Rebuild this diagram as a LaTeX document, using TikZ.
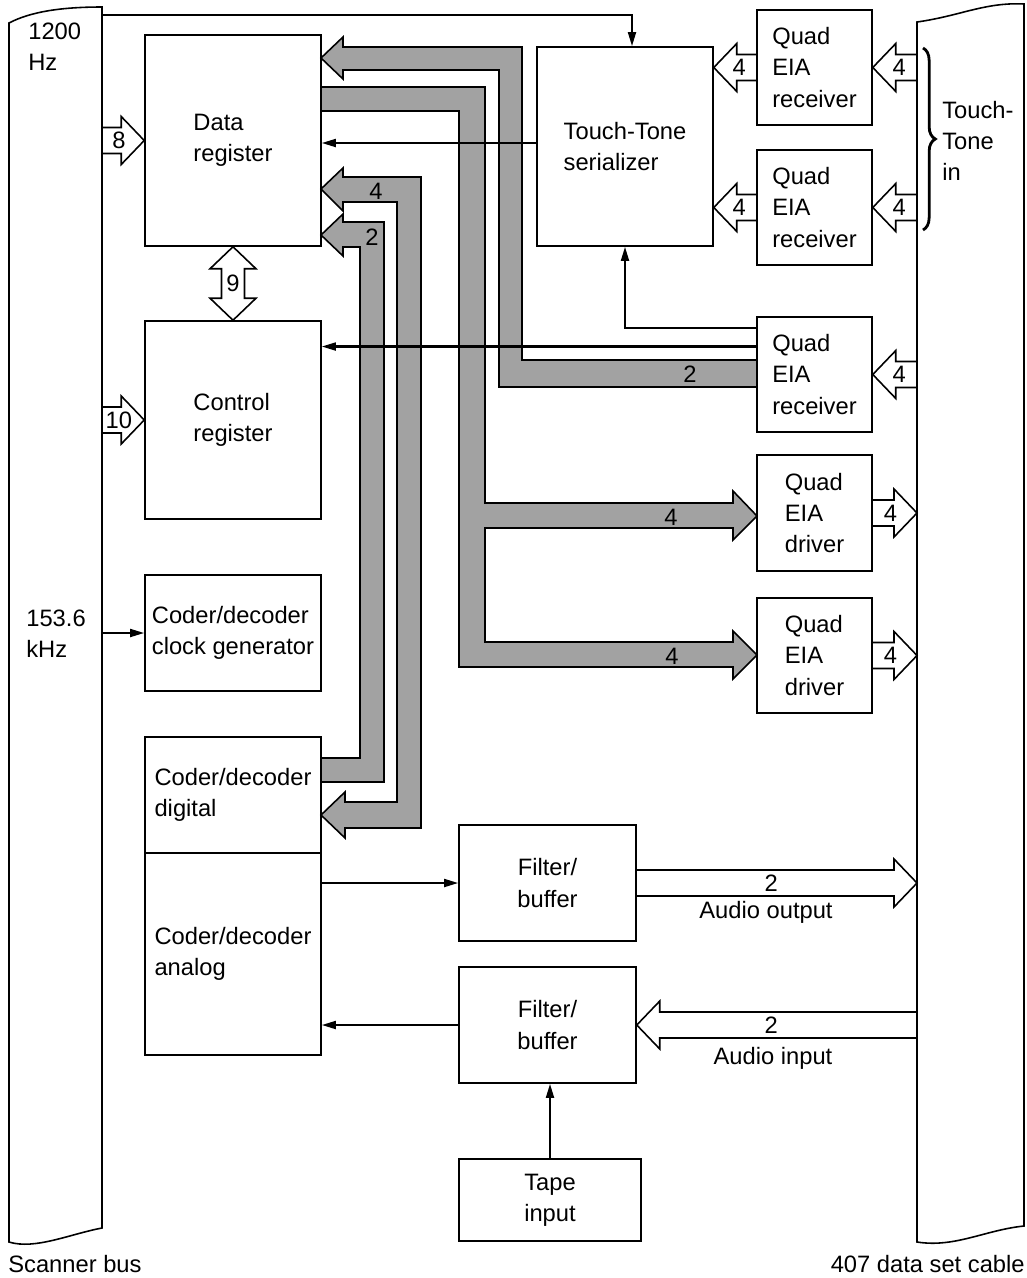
\documentclass[tikz,border=0pt]{standalone}
\usepackage{fontspec}
\setmainfont{Liberation Sans}
\usepackage{tikz}
\usetikzlibrary{positioning,arrows.meta,calc,decorations.pathreplacing,backgrounds}
\definecolor{busgray}{RGB}{162,162,162}
\newcommand{\hollowR}[4][0.4]{\draw[hollow] let \p1=#2, \p2=#3 in (\x1,\y2+0.26cm) -- (\x2-0.46cm,\y2+0.26cm) -- (\x2-0.46cm,\y2+0.48cm) -- (\x2,\y2) -- (\x2-0.46cm,\y2-0.48cm) -- (\x2-0.46cm,\y2-0.26cm) -- (\x1,\y2-0.26cm);
\path let \p1=#2, \p2=#3 in node[num] at ({\x1+#1*(\x2-\x1)},\y2) {#4};}
\newcommand{\hollowL}[4][0.4]{\draw[hollow] let \p1=#2, \p2=#3 in (\x1,\y2+0.26cm) -- (\x2+0.46cm,\y2+0.26cm) -- (\x2+0.46cm,\y2+0.48cm) -- (\x2,\y2) -- (\x2+0.46cm,\y2-0.48cm) -- (\x2+0.46cm,\y2-0.26cm) -- (\x1,\y2-0.26cm);
\path let \p1=#2, \p2=#3 in node[num] at ({\x1+#1*(\x2-\x1)},\y2) {#4};}

\begin{document}
\begin{tikzpicture}[x=0.02cm,y=-0.02cm,
  font=\fontsize{13.5}{17.8}\selectfont,
  box/.style={draw,line width=0.9pt,inner sep=0pt,align=left},
  sig/.style={line width=1.2pt,-{Triangle[length=8pt,width=4.5pt]}},
  hollow/.style={draw,line width=0.9pt,line join=miter},
  bus/.style={draw,line width=0.9pt,line join=miter,fill=busgray},
  num/.style={inner sep=0pt},
  txt/.style={inner sep=0pt,align=left}]
\useasboundingbox (0,0) rectangle (1027,1278);

\draw[line width=0.9pt] (9,1242) -- (9,23) .. controls (30,12) and (60,7) .. (102,7) -- (102,1228) .. controls (70,1234) and (35,1250) .. cycle;
\draw[line width=0.9pt] (917,1242) -- (917,22) .. controls (960,16) and (985,2) .. (1024,4) -- (1024,1226) .. controls (985,1230) and (955,1248) .. cycle;
\coordinate (sbus) at (102,0);
\coordinate (dbus) at (917,0);
\coordinate (hz) at (102,15);

\node[box,minimum width=3.52cm,minimum height=4.22cm] (dreg) at (233,140.5) {Data\\register};
\node[box,minimum width=3.52cm,minimum height=3.96cm] (creg) at (233,420) {Control\\register};
\node[box,minimum width=3.52cm,minimum height=2.32cm] (clk) at (233,633) {Coder/decoder\\clock generator};
\node[box,minimum width=3.52cm,minimum height=2.32cm] (cdig) at (233,795) {Coder/decoder\\digital};
\node[box,minimum width=3.52cm,minimum height=4.04cm] (cana) at (233,954) {Coder/decoder\\analog};
\node[box,minimum width=3.52cm,minimum height=3.98cm] (ser) at (625,146.5) {Touch-Tone\\serializer};
\node[box,minimum width=2.3cm,minimum height=2.3cm] (rx1) at (814.5,67.5) {Quad\\EIA\\receiver};
\node[box,minimum width=2.3cm,minimum height=2.3cm] (rx2) at (814.5,207.5) {Quad\\EIA\\receiver};
\node[box,minimum width=2.3cm,minimum height=2.3cm] (rx3) at (814.5,374.5) {Quad\\EIA\\receiver};
\node[box,minimum width=2.3cm,minimum height=2.32cm] (drv1) at (814.5,513) {Quad\\EIA\\driver};
\node[box,minimum width=2.3cm,minimum height=2.3cm] (drv2) at (814.5,655.5) {Quad\\EIA\\driver};
\node[box,align=center,minimum width=3.54cm,minimum height=2.32cm] (flt1) at (547.5,883) {Filter/\\buffer};
\node[box,align=center,minimum width=3.54cm,minimum height=2.32cm] (flt2) at (547.5,1025) {Filter/\\buffer};
\node[box,align=center,minimum width=3.64cm,minimum height=1.64cm] (tape) at (550,1200) {Tape\\input};

\node[txt,anchor=west] (hzlbl) at (28,47) {1200\\Hz};
\node[txt,anchor=west] (khzlbl) at (26,634) {153.6\\kHz};
\node[txt,anchor=west] (ttin) at (942,141) {Touch-\\Tone\\in};
\node[txt,anchor=west] (scanlbl) at (8,1264) {Scanner bus};
\node[txt,anchor=east] (cablelbl) at (1025,1264) {407 data set cable};
\node[txt] (aout) at (766,912) {Audio output};
\node[txt] (ain) at (773,1058) {Audio input};
\draw[line width=1.6pt,decorate,decoration={brace,amplitude=7pt}] (923,48) -- (923,230);

\begin{scope}[on background layer]
\draw[bus] (321,58) -- (343,37) -- (343,47) -- (522,47) -- (522,360) -- (757,360) -- (757,387) -- (499,387) -- (499,70) -- (343,70) -- (343,79) -- cycle;
\draw[bus] (321,87) -- (485,87) -- (485,503) -- (733,503) -- (733,491) -- (757,516) -- (733,540) -- (733,528) -- (485,528) -- (485,642) -- (733,642) -- (733,631) -- (757,655) -- (733,679) -- (733,667) -- (459,667) -- (459,111) -- (321,111) -- cycle;
\draw[bus] (321,189) -- (343,168) -- (343,177) -- (421,177) -- (421,828) -- (345,828) -- (345,838) -- (321,815) -- (345,792) -- (345,802) -- (397,802) -- (397,202) -- (343,202) -- (343,211) -- cycle;
\draw[bus] (321,235) -- (343,214) -- (343,222) -- (384,222) -- (384,782) -- (321,782) -- (321,758) -- (360,758) -- (360,247) -- (343,247) -- (343,256) -- cycle;
\hollowR{(dreg.west -| sbus)}{(dreg.west)}{8}
\hollowR{(creg.west -| sbus)}{(creg.west)}{10}
\hollowL{(rx1.west)}{(rx1.west -| ser.east)}{4}
\hollowL{(rx2.west)}{(rx2.west -| ser.east)}{4}
\hollowL{(rx1.east -| dbus)}{(rx1.east)}{4}
\hollowL{(rx2.east -| dbus)}{(rx2.east)}{4}
\hollowL{(rx3.east -| dbus)}{(rx3.east)}{4}
\hollowR{(drv1.east)}{(drv1.east -| dbus)}{4}
\hollowR{(drv2.east)}{(drv2.east -| dbus)}{4}
\hollowR[0.48]{(flt1.east)}{(flt1.east -| dbus)}{2}
\hollowL[0.52]{(flt2.east -| dbus)}{(flt2.east)}{2}
\draw[hollow] let \p1=(dreg.south), \p2=(creg.north) in (\x1,\y1) -- (\x1+0.46cm,\y1-0.44cm) -- (\x1+0.23cm,\y1-0.44cm) -- (\x1+0.23cm,\y2+0.44cm) -- (\x1+0.46cm,\y2+0.44cm) -- (\x1,\y2) -- (\x1-0.46cm,\y2+0.44cm) -- (\x1-0.23cm,\y2+0.44cm) -- (\x1-0.23cm,\y1-0.44cm) -- (\x1-0.46cm,\y1-0.44cm) -- cycle;
\end{scope}
\node[num] (n9) at ($(dreg.south)!0.5!(creg.north)$) {9};
\node[num] (busa) at (690,374) {2};
\node[num] (busb1) at (671,517) {4};
\node[num] (busb2) at (672,656) {4};
\node[num] (busc) at (376,191) {4};
\node[num] (busd) at (372,237) {2};

\coordinate (r3a) at ($(rx3.north west)!0.26!(rx3.south west)$);
\coordinate (r3b) at ($(rx3.north west)!0.1!(rx3.south west)$);
\draw[sig] (hz) -| ($(ser.north)+(7,0)$);
\draw[sig] ($(ser.west)+(0,-3.5)$) -- ($(ser.west -| dreg.east)+(0,-3.5)$);
\draw[sig] (r3b) -| (ser.south);
\draw[sig] (r3a) -- (r3a -| creg.east);
\draw[sig] (clk.west -| sbus) -- (clk.west);
\draw[sig] (flt1.west -| cana.east) -- (flt1.west);
\draw[sig] (flt2.west) -- (flt2.west -| cana.east);
\draw[sig] (tape.north) -- (tape.north |- flt2.south);
\end{tikzpicture}
\end{document}
